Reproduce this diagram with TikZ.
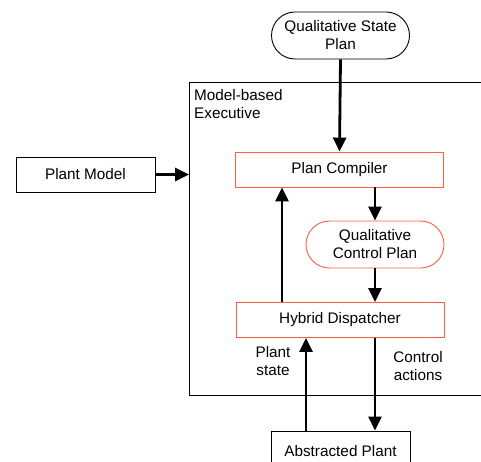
\documentclass[tikz,border=0pt]{standalone}
\usepackage{fontspec}
\setmainfont{Liberation Sans}
\usetikzlibrary{arrows.meta,shapes.misc}
\definecolor{boxred}{RGB}{255,95,65}
\begin{document}
\begin{tikzpicture}[x=1pt,y=-1pt,
  every node/.style={font=\fontsize{15.3}{18}\selectfont, align=center, inner sep=0pt},
  plainbox/.style={draw=black, line width=0.9pt, minimum width=139pt, minimum height=35pt},
  redbox/.style={draw=boxred, line width=0.9pt, minimum width=208pt, minimum height=35pt},
  stadium/.style={rounded rectangle, line width=0.9pt, minimum width=138pt, minimum height=47pt},
  flow/.style={line width=2.8pt, -{Triangle[width=13pt,length=14pt]}, shorten >=0pt}]
\useasboundingbox (0,0) rectangle (481,462);
% executive frame
\draw[line width=0.9pt] (482,82) -- (189,82) -- (189,395) -- (482,395);
\node[anchor=north west, align=left] (exec) at (194,89) {Model-based\\Executive};
% nodes
\node[stadium, draw=black] (qsp) at (340.5,35.5) {Qualitative State\\Plan};
\node[plainbox] (pm) at (85.5,174.5) {Plant Model};
\node[redbox] (pc) at (339.5,169.5) {Plan Compiler};
\node[stadium, draw=boxred] (qcp) at (375,244.5) {Qualitative\\Control Plan};
\node[redbox] (hd) at (340,320) {Hybrid Dispatcher};
\node[plainbox, minimum height=40pt] (ap) at (340.5,451) {Abstracted Plant};
\coordinate (execin) at (189,174.5);
% connectors
\draw[flow] (qsp.south) -- (pc.north);
\draw[flow] (pm.east) -- (execin);
\draw[flow] (pc.south -| qcp.north) -- (qcp.north);
\draw[flow] (qcp.south) -- (hd.north -| qcp.south);
\draw[flow] (hd.north -| 282,0) -- (pc.south -| 282,0);
\draw[flow] (ap.north -| 306,0) -- (hd.south -| 306,0);
\draw[flow] (hd.south -| 375,0) -- (ap.north -| 375,0);
% labels
\node (ps) at (273,361) {Plant\\state};
\node (ca) at (418,366) {Control\\actions};
\end{tikzpicture}
\end{document}
